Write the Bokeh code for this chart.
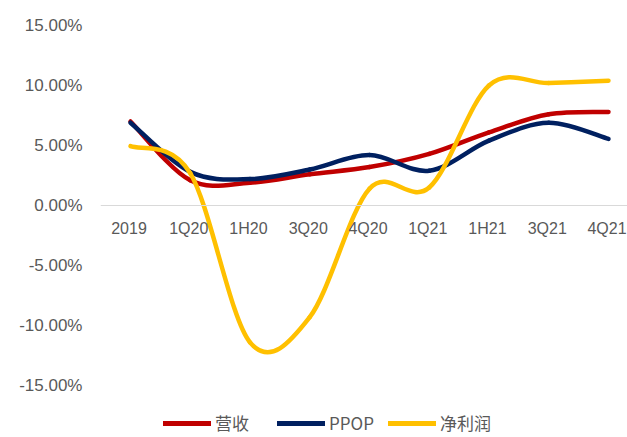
import numpy as np
from bokeh.plotting import figure
from bokeh.models import Range1d, FixedTicker, Span, Legend, LegendItem
from bokeh.core.properties import value
from bokeh.embed import file_html
from bokeh.resources import INLINE

# ---- data (percent) ----
categories = ["2019", "1Q20", "1H20", "3Q20", "4Q20", "1Q21", "1H21", "3Q21", "4Q21"]
revenue = [7.0, 2.1, 1.9, 2.6, 3.2, 4.3, 6.1, 7.6, 7.8]          # 营收
ppop = [6.9, 2.8, 2.2, 3.0, 4.2, 2.9, 5.4, 6.9, 5.55]            # PPOP
net_profit = [4.95, 2.7, -11.4, -9.3, 1.4, 1.5, 10.0, 10.2, 10.4]  # 净利润
series_names = ["营收", "PPOP", "净利润"]
y_ticks = [-15, -10, -5, 0, 5, 10, 15]

colors = ["#C00000", "#002060", "#FFC000"]
label_color = "#595959"

p = figure(width=627, height=437, output_backend="svg", toolbar_location=None,
           x_range=Range1d(-0.502, 8.318), y_range=Range1d(-19.33, 17.08),
           min_border_left=100, min_border_right=0, min_border_top=0, min_border_bottom=0)
p.xaxis.visible = False
p.grid.visible = False
p.outline_line_color = None
p.background_fill_color = "white"
p.border_fill_color = "white"

ax = p.yaxis[0]
ax.ticker = FixedTicker(ticks=y_ticks)
ax.major_label_overrides = {t: f"{t:.2f}%" for t in y_ticks}
ax.axis_line_color = None
ax.major_tick_line_color = None
ax.minor_tick_line_color = None
ax.major_tick_in = 0
ax.major_tick_out = 0
ax.major_label_standoff = 18
ax.major_label_text_font = "Liberation Sans"
ax.major_label_text_font_size = "17px"
ax.major_label_text_color = label_color

p.add_layout(Span(location=0, dimension="width", line_color="#d9d9d9", line_width=1.2))

xs = list(range(len(categories)))


def smooth_segments(xv, yv):
    n = len(xv)
    out = {k: [] for k in ["x0", "y0", "x1", "y1", "cx0", "cy0", "cx1", "cy1"]}
    for i in range(n - 1):
        a = i - 1 if i > 0 else i
        d = i + 2 if i + 2 < n else i + 1
        out["x0"].append(xv[i]); out["y0"].append(yv[i])
        out["x1"].append(xv[i + 1]); out["y1"].append(yv[i + 1])
        out["cx0"].append(xv[i] + (xv[i + 1] - xv[a]) / 6)
        out["cy0"].append(yv[i] + (yv[i + 1] - yv[a]) / 6)
        out["cx1"].append(xv[i + 1] - (xv[d] - xv[i]) / 6)
        out["cy1"].append(yv[i + 1] - (yv[d] - yv[i]) / 6)
    return out


for ys, c in zip([revenue, ppop, net_profit], colors):
    seg = smooth_segments(xs, ys)
    p.bezier(**seg, line_color=c, line_width=4.5, line_cap="round")

p.text(x=xs, y=[0] * len(xs), text=categories, text_align="center", text_baseline="middle",
       y_offset=23, x_offset=-1.5, text_font=value("Liberation Sans"), text_font_size="16px",
       text_color=label_color)

# legend (one per item for exact placement); dummy lines lie outside the visible range
legend_x = [63, 177, 288]
for name, c, lx in zip(series_names, colors, legend_x):
    r = p.line(x=[-5, -4], y=[-50, -50], line_color=c, line_width=5, line_cap="round")
    lg = Legend(items=[LegendItem(label=name, renderers=[r])], location=(lx, 2),
                orientation="horizontal", glyph_width=48, glyph_height=20, label_standoff=4,
                padding=0, margin=0, border_line_alpha=0, background_fill_alpha=0,
                label_text_font="Noto Sans CJK SC", label_text_font_size="17px",
                label_text_color=label_color)
    p.add_layout(lg)

open("out.html", "w").write(file_html(p, INLINE))
